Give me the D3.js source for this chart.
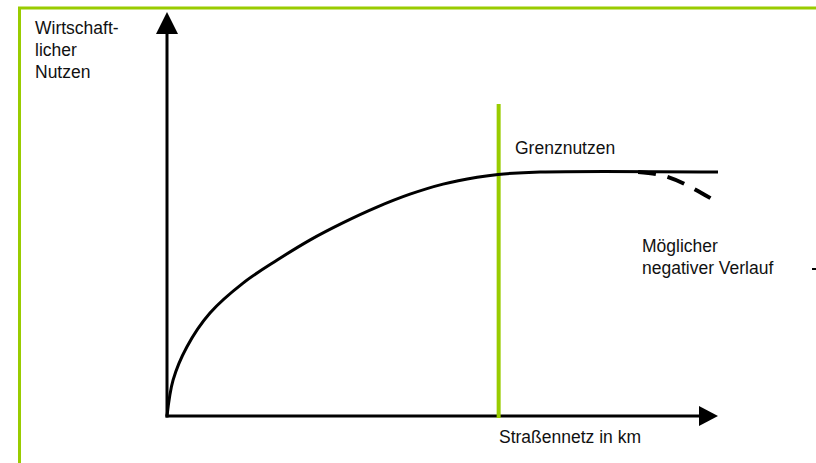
<!DOCTYPE html>
<html>
<head>
<meta charset="utf-8">
<script src="https://cdn.jsdelivr.net/npm/d3@7"></script>
<style>
  html, body { margin: 0; padding: 0; background: #fff; overflow: hidden; }
  text { font-family: 'Liberation Sans', Arial, Helvetica, sans-serif; font-size: 17.5px; fill: #111; }
</style>
</head>
<body>
<div id="chart"></div>
<script>
// Nutzenkurve (Straßennetz in km -> wirtschaftlicher Nutzen), relative units 0..100
const benefitX = [0, 1.1, 3.6, 7.8, 13.8, 20.0, 26.0, 31.9, 38.1, 44.1, 50.1, 56.3, 60.1, 67.7, 100];
const benefitY = [0, 8.9, 17.1, 25.5, 32.9, 38.6, 43.6, 47.8, 51.7, 54.9, 57.4, 59.1, 59.8, 60.4, 60.4];

// möglicher negativer Verlauf (gestrichelt)
const negX = [85.5, 89.5, 94.0, 99.8];
const negY = [60.4, 59.7, 57.4, 53.0];

// Grenznutzen position on the x axis
const limitX = 60.1;

const yLabelLines = ['Wirtschaft-', 'licher', 'Nutzen'];
const xLabel = 'Straßennetz in km';
const limitLabel = 'Grenznutzen';
const negLabelLines = ['Möglicher', 'negativer Verlauf'];

const W = 816, H = 463;
const GREEN = '#99cc00';

const svg = d3.select('#chart').append('svg')
  .attr('width', W).attr('height', H);

const x = d3.scaleLinear().domain([0, 100]).range([167, 718]);
const y = d3.scaleLinear().domain([0, 100]).range([416, 12]);

// Green frame (only top and left edges visible)
svg.append('path')
  .attr('d', `M${W + 5},8 L19.5,8 L19.5,${H + 5}`)
  .attr('fill', 'none')
  .attr('stroke', GREEN)
  .attr('stroke-width', 3);

// ── Axes with arrow heads ─────────────────────────────────
svg.append('line')
  .attr('x1', x(0)).attr('y1', y(0) + 1.5)
  .attr('x2', x(0)).attr('y2', y(100) + 18)
  .attr('stroke', '#000').attr('stroke-width', 3);

svg.append('path')
  .attr('d', `M${x(0)},${y(100)} L${x(0) - 11},${y(100) + 22} L${x(0) + 11},${y(100) + 22} Z`)
  .attr('fill', '#000');

svg.append('line')
  .attr('x1', x(0) - 1.5).attr('y1', y(0))
  .attr('x2', x(100) - 16).attr('y2', y(0))
  .attr('stroke', '#000').attr('stroke-width', 3);

svg.append('path')
  .attr('d', `M${x(100)},${y(0)} L${x(100) - 19},${y(0) - 10} L${x(100) - 19},${y(0) + 10} Z`)
  .attr('fill', '#000');

// ── Grenznutzen line ──────────────────────────────────────
svg.append('line')
  .attr('x1', x(limitX) + 0.5).attr('y1', 104)
  .attr('x2', x(limitX) + 0.5).attr('y2', y(0) + 2)
  .attr('stroke', GREEN).attr('stroke-width', 4);

// ── Curves ────────────────────────────────────────────────
const line = d3.line()
  .x(d => x(d[0]))
  .y(d => y(d[1]))
  .curve(d3.curveCatmullRom.alpha(0.5));

svg.append('path')
  .datum(d3.zip(benefitX, benefitY))
  .attr('d', line)
  .attr('fill', 'none')
  .attr('stroke', '#000')
  .attr('stroke-width', 3);

svg.append('path')
  .datum(d3.zip(negX, negY))
  .attr('d', line.curve(d3.curveNatural))
  .attr('fill', 'none')
  .attr('stroke', '#000')
  .attr('stroke-width', 4)
  .attr('stroke-dasharray', '18 12');

// stray dash right of the label
svg.append('line')
  .attr('x1', 812).attr('y1', 269)
  .attr('x2', 816).attr('y2', 269)
  .attr('stroke', '#000').attr('stroke-width', 2);

// ── Texts ─────────────────────────────────────────────────
svg.append('text')
  .attr('x', 35).attr('y', 34)
  .selectAll('tspan')
  .data(yLabelLines).enter()
  .append('tspan')
  .attr('x', 35)
  .attr('dy', (_, i) => i === 0 ? 0 : 22)
  .text(d => d);

svg.append('text')
  .attr('x', 515).attr('y', 154)
  .text(limitLabel);

svg.append('text')
  .attr('x', 642).attr('y', 252)
  .selectAll('tspan')
  .data(negLabelLines).enter()
  .append('tspan')
  .attr('x', 642)
  .attr('dy', (_, i) => i === 0 ? 0 : 22)
  .text(d => d);

svg.append('text')
  .attr('x', 499).attr('y', 443)
  .text(xLabel);
</script>
</body>
</html>
